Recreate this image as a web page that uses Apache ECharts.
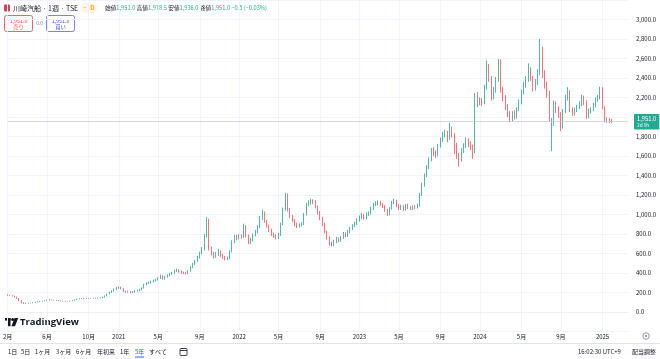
<!DOCTYPE html>
<html><head><meta charset="utf-8">
<script src="https://cdn.jsdelivr.net/npm/echarts@6/dist/echarts.min.js"></script>
<style>html,body{margin:0;padding:0;background:#fff}#c{width:660px;height:359px}</style>
</head><body><div id="c"></div>
<script>
// ---- weekly OHLC (dividend adjusted), first week = 2020-02-03 ----
const opens = [175,172,168,165,150,140,115,95,92,86,90,92,95,100,105,108,110,115,120,125,122,118,120,115,112,110,108,110,112,118,125,132,135,138,137,140,138,140,142,140,143,145,150,165,185,200,215,230,245,250,240,215,205,210,200,205,215,220,230,245,280,295,300,310,320,330,345,370,340,360,375,390,400,420,430,415,405,400,395,420,460,490,520,560,600,640,780,940,650,600,570,590,620,580,560,545,550,620,720,770,760,780,770,880,780,710,740,790,820,870,960,1020,930,880,840,800,780,760,790,900,1050,1200,1050,980,940,900,880,890,900,1000,1100,1120,1140,1130,1080,1020,960,900,820,760,700,690,720,750,730,760,800,780,820,850,880,900,940,970,990,960,1000,1010,1060,1100,1110,1120,1100,1080,1040,1000,1060,1120,1140,1090,1060,1080,1050,1090,1070,1060,1080,1070,1090,1200,1300,1400,1480,1560,1650,1630,1610,1700,1760,1820,1840,1780,1880,1820,1720,1600,1560,1650,1700,1760,1720,1700,1640,2210,2150,2170,2150,2300,2520,2400,2200,2280,2380,2560,2280,2200,2100,2030,1980,2030,2000,2080,2150,2250,2330,2380,2480,2400,2300,2350,2450,2700,2450,2330,2250,1850,1930,2130,2080,2030,1900,2060,2200,2260,2080,2040,2070,2100,2130,2200,2150,2000,2060,2080,2120,2180,2200,2290,2100,1960,1970,1951];
const closes = [172,168,165,150,140,115,95,92,86,90,92,95,100,105,108,110,115,120,125,122,118,120,115,112,110,108,110,112,118,125,132,135,138,137,140,138,140,142,140,143,145,150,165,185,200,215,230,245,250,240,215,205,210,200,205,215,220,230,245,280,295,300,310,320,330,345,370,340,360,375,390,400,420,430,415,405,400,395,420,460,490,520,560,600,640,780,940,650,600,570,590,620,580,560,545,550,620,720,770,760,780,770,880,780,710,740,790,820,870,960,1020,930,880,840,800,780,760,790,900,1050,1200,1050,980,940,900,880,890,900,1000,1100,1120,1140,1130,1080,1020,960,900,820,760,700,690,720,750,730,760,800,780,820,850,880,900,940,970,990,960,1000,1010,1060,1100,1110,1120,1100,1080,1040,1000,1060,1120,1140,1090,1060,1080,1050,1090,1070,1060,1080,1070,1090,1200,1300,1400,1480,1560,1650,1630,1610,1700,1760,1820,1840,1780,1880,1820,1720,1600,1560,1650,1700,1760,1720,1700,1620,2210,2150,2170,2150,2300,2520,2400,2200,2280,2380,2560,2280,2200,2100,2030,1980,2030,2000,2080,2150,2250,2330,2380,2480,2400,2300,2350,2450,2700,2450,2330,2250,1980,1930,2130,2080,2030,1900,2060,2200,2260,2080,2040,2070,2100,2130,2200,2150,2000,2060,2080,2120,2180,2200,2290,2100,1960,1970,1951.5,1951];
const lows = [166,163,158,146,133,108,88,84,82,83,87,89,93,98,102,105,108,113,118,118,115,114,111,108,106,104,105,107,110,115,122,128,131,133,134,134,134,136,136,137,139,141,147,160,180,194,208,224,238,232,205,196,198,192,194,200,208,214,224,240,272,286,292,302,312,322,338,330,332,350,366,380,392,410,402,394,388,382,388,412,450,480,510,548,590,630,765,630,580,548,555,575,565,545,530,532,540,610,705,735,745,750,760,765,695,695,725,775,805,860,945,915,865,820,780,760,745,748,780,890,1040,1030,960,920,880,860,865,875,890,990,1085,1100,1105,1065,1000,940,880,805,740,680,670,675,705,715,718,748,765,770,808,838,868,890,925,955,945,950,985,1000,1045,1085,1095,1085,1065,1025,985,990,1050,1105,1075,1045,1045,1035,1040,1055,1045,1045,1055,1060,1080,1190,1285,1385,1465,1545,1600,1580,1595,1685,1745,1790,1740,1765,1790,1620,1570,1490,1540,1630,1680,1690,1660,1570,1625,2100,2120,2110,2130,2280,2360,2170,2180,2250,2360,2250,2160,2070,2000,1945,1955,1975,1985,2060,2130,2230,2300,2360,2370,2260,2270,2330,2430,2400,2290,2200,1950,1650,1910,2040,1990,1855,1880,2040,2170,2050,2010,2015,2050,2080,2110,2120,1980,1985,2035,2060,2100,2155,2180,2080,1945,1940,1935,1936];
const highs = [180,176,172,167,156,143,120,100,96,94,96,99,104,108,112,114,119,126,132,128,125,124,122,117,115,113,113,116,121,128,136,139,142,143,145,143,144,147,145,148,150,156,170,190,208,222,238,255,262,258,244,220,218,214,212,222,228,238,252,288,305,312,320,330,342,356,382,376,368,386,400,412,432,445,438,422,414,408,428,470,502,535,575,618,665,800,975,955,670,615,615,645,630,595,575,568,630,735,790,790,800,795,905,890,795,760,805,840,890,985,1050,1030,945,895,855,815,795,810,915,1070,1220,1215,1065,995,955,915,910,920,1015,1120,1145,1160,1155,1145,1090,1035,975,915,835,775,720,740,770,765,780,820,815,840,870,900,925,960,990,1015,1005,1020,1030,1080,1120,1135,1145,1140,1115,1095,1055,1075,1140,1160,1150,1105,1100,1095,1105,1110,1085,1095,1095,1110,1220,1325,1420,1505,1585,1680,1690,1655,1725,1790,1850,1870,1860,1940,1900,1835,1735,1630,1680,1730,1790,1780,1750,1715,2245,2255,2200,2195,2330,2580,2545,2420,2310,2410,2595,2590,2310,2225,2130,2060,2060,2070,2100,2180,2280,2360,2420,2550,2510,2420,2390,2490,2800,2720,2480,2360,2270,1990,2170,2160,2110,2050,2080,2230,2305,2275,2100,2095,2125,2160,2230,2220,2170,2085,2100,2145,2200,2225,2310,2305,2110,1995,1990,1978.5];

const startMonday = '2020-02-03';
const totalSlots = 269;            // weeks on the time scale incl. right margin
const tickDates  = ['2020-02-03','2020-06-01','2020-10-05','2021-01-04','2021-05-03','2021-09-06','2022-01-03','2022-05-02','2022-09-05','2023-01-02','2023-05-01','2023-09-04','2024-01-01','2024-05-06','2024-09-02','2025-01-06'];
const tickLabels = ['2月','6月','10月','2021','5月','9月','2022','5月','9月','2023','5月','9月','2024','5月','9月','2025'];
const rangeButtons = ['1日','5日','1ヶ月','3ヶ月','6ヶ月','年初来','1年','5年','すべて'];
const activeRange = '5年';
const titleText = '川崎汽船 · 1週 · TSE';
const clockText = '16:02:30 UTC+9';
const adjustText = '配当調整';
const countdownText = '2d 0h';

// ---- build ----
const dates = [];
const t0 = Date.parse(startMonday + 'T00:00:00Z');
for (let k = 0; k < totalSlots; k++) dates.push(new Date(t0 + k * 7 * 86400000).toISOString().slice(0, 10));
const tickMap = {};
tickDates.forEach((d, i) => tickMap[d] = tickLabels[i]);
const candles = opens.map((o, i) => [o, closes[i], lows[i], highs[i]]);
const n = closes.length;
const fmt = v => v.toLocaleString('en-US', {minimumFractionDigits: 1, maximumFractionDigits: 1});
const lastO = opens[n-1], lastH = highs[n-1], lastL = lows[n-1], lastC = closes[n-1];
const chg = lastC - closes[n-2];
const chgPct = chg / closes[n-2] * 100;
const sgn = (v, d) => (v < 0 ? '−' : '+') + Math.abs(v).toFixed(d);

const UP = '#089981', DOWN = '#f23645';
const FONT = '"Noto Sans CJK JP", "Noto Sans", sans-serif';
const GRID = '#f0f3fa';

const rangeX = [8, 21, 35, 56, 76, 97, 120, 135, 149];
const graphics = [
  // header
  {type:'rect', shape:{x:4, y:4.5, width:6, height:7, r:1}, style:{fill:'#c9485b'}},
  {type:'text', x:13, y:8, style:{text:titleText, fill:'#131722', font:'7px ' + FONT, verticalAlign:'middle'}},
  {type:'rect', shape:{x:80.5, y:3, width:17, height:10, r:5}, style:{fill:'#fff4e5'}},
  {type:'text', x:83, y:8, style:{text:'−', fill:'#9598a1', font:'6px ' + FONT, verticalAlign:'middle'}},
  {type:'text', x:92.5, y:8, style:{text:'D', fill:'#f7a21b', font:'bold 6px ' + FONT, verticalAlign:'middle', align:'center'}},
  {type:'text', x:105, y:8, style:{
    text: `{l|始値}{v|${fmt(lastO)}} {l|高値}{v|${fmt(lastH)}} {l|安値}{v|${fmt(lastL)}} {l|終値}{v|${fmt(lastC)}} {v|${sgn(chg,1)} (${sgn(chgPct,2)}%)}`,
    verticalAlign:'middle', font:'5.7px ' + FONT,
    rich:{l:{fill:'#131722', fontSize:5.7, fontFamily:FONT}, v:{fill:'#22ab94', fontSize:5.7, fontFamily:FONT}}}},
  // sell / buy buttons
  {type:'rect', shape:{x:4.5, y:15.5, width:28, height:16, r:2}, style:{fill:'#fff', stroke:DOWN, lineWidth:0.8}},
  {type:'text', x:18.5, y:20.5, style:{text:fmt(lastC), fill:DOWN, font:'5.3px ' + FONT, align:'center', verticalAlign:'middle'}},
  {type:'text', x:18.5, y:27, style:{text:'売り', fill:DOWN, font:'5.3px ' + FONT, align:'center', verticalAlign:'middle'}},
  {type:'text', x:39.5, y:23.5, style:{text:'0.0', fill:'#787b86', font:'4.8px ' + FONT, align:'center', verticalAlign:'middle'}},
  {type:'rect', shape:{x:46.5, y:15.5, width:28, height:16, r:2}, style:{fill:'#fff', stroke:'#5b5ff0', lineWidth:0.8}},
  {type:'text', x:60.5, y:20.5, style:{text:fmt(lastC), fill:'#3d48e8', font:'5.3px ' + FONT, align:'center', verticalAlign:'middle'}},
  {type:'text', x:60.5, y:27, style:{text:'買い', fill:'#3d48e8', font:'5.3px ' + FONT, align:'center', verticalAlign:'middle'}},
  // TradingView logo mark
  {type:'rect', shape:{x:5, y:318, width:5.5, height:2.6}, style:{fill:'#131722'}},
  {type:'rect', shape:{x:7.6, y:318, width:2.9, height:8.2}, style:{fill:'#131722'}},
  {type:'circle', shape:{cx:12.6, cy:319.6, r:1.5}, style:{fill:'#131722'}},
  {type:'polygon', shape:{points:[[14.6,318],[18.2,318],[15,326.2],[11.4,326.2]]}, style:{fill:'#131722'}},
  {type:'text', x:20, y:322, style:{text:'TradingView', fill:'#131722', font:'bold 9.5px "Open Sans", sans-serif', verticalAlign:'middle'}},
  // time-axis settings icon
  {type:'circle', shape:{cx:646, cy:336, r:3.2}, style:{fill:'none', stroke:'#787b86', lineWidth:0.8}},
  {type:'circle', shape:{cx:646, cy:336, r:1}, style:{fill:'#787b86'}},
  // bottom separator
  {type:'line', shape:{x1:0, y1:343.5, x2:660, y2:343.5}, style:{stroke:'#e0e3eb', lineWidth:1}},
  // calendar icon
  {type:'rect', shape:{x:180, y:348.5, width:7, height:7, r:1}, style:{fill:'none', stroke:'#131722', lineWidth:0.8}},
  {type:'line', shape:{x1:180, y1:350.5, x2:187, y2:350.5}, style:{stroke:'#131722', lineWidth:0.8}},
  // clock + adjustment
  {type:'text', x:578, y:352, style:{text:clockText, fill:'#131722', font:'6px ' + FONT, verticalAlign:'middle'}},
  {type:'text', x:632, y:352, style:{text:adjustText, fill:'#131722', font:'6px ' + FONT, verticalAlign:'middle'}}
];
rangeButtons.forEach((t, i) => {
  const on = t === activeRange;
  graphics.push({type:'text', x:rangeX[i], y:352, style:{text:t, fill: on ? '#2962ff' : '#131722', font:'6px ' + FONT, verticalAlign:'middle'}});
  if (on) graphics.push({type:'line', shape:{x1:rangeX[i], y1:357, x2:rangeX[i] + 9, y2:357}, style:{stroke:'#2962ff', lineWidth:1}});
});

const chart = echarts.init(document.getElementById('c'), null, {renderer:'canvas'});
chart.setOption({
  animation: false,
  backgroundColor: '#fff',
  grid: {left: 0.6, right: 32, top: -6.9, bottom: 27.6},
  xAxis: {
    type: 'category', data: dates, boundaryGap: false,
    axisLine: {show: true, lineStyle: {color: '#eef0f5', width: 1}},
    axisTick: {show: false},
    axisLabel: {
      interval: (i, v) => tickMap[v] !== undefined,
      formatter: v => tickMap[v] || '',
      color: '#131722', fontSize: 6, fontFamily: FONT, margin: 2, showMinLabel: true
    },
    splitLine: {show: true, interval: (i, v) => tickMap[v] !== undefined, lineStyle: {color: GRID, width: 1}}
  },
  yAxis: {
    type: 'value', position: 'right', min: -200, max: 3200, interval: 200, scale: false,
    axisLine: {show: false}, axisTick: {show: false},
    axisLabel: {formatter: v => v < 0 || v > 3000 ? '' : fmt(v), color: '#131722', fontSize: 6, fontFamily: FONT, margin: 8, align: 'left'},
    splitLine: {lineStyle: {color: GRID, width: 1}}
  },
  series: [{
    type: 'candlestick', data: candles, barWidth: 1.3,
    itemStyle: {color: UP, color0: DOWN, borderColor: UP, borderColor0: DOWN, borderWidth: 0.7},
    markLine: {
      symbol: 'none', silent: true,
      lineStyle: {color: '#c3c6ce', type: 'solid', width: 0.7},
      label: {
        position: 'end', distance: 6, formatter: () => `{a|${fmt(lastC)}}\n{b|${countdownText}}`,
        backgroundColor: '#22ab94', padding: [1.5, 3, 1, 3], borderRadius: 1,
        rich: {a: {color: '#fff', fontSize: 5.8, fontFamily: FONT, lineHeight: 7}, b: {color: '#e6fff8', fontSize: 4.8, fontFamily: FONT, lineHeight: 6}}
      },
      data: [{yAxis: lastC}]
    }
  }],
  graphic: graphics
});
</script></body></html>
